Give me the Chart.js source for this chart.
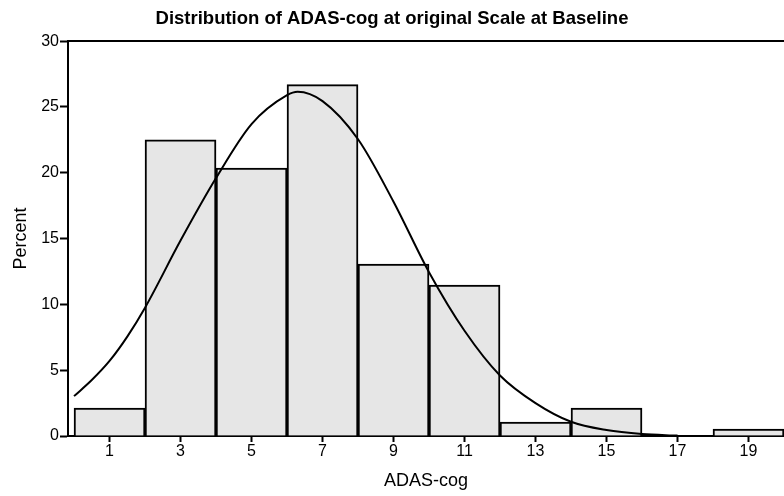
<!DOCTYPE html>
<html>
<head>
<meta charset="utf-8">
<script src="https://cdn.jsdelivr.net/npm/chart.js@4.4.1/dist/chart.umd.min.js"></script>
<style>
  body { margin: 0; background: #fff; }
  #wrap { width: 784px; height: 496px; }
</style>
</head>
<body>
<div id="wrap"><canvas id="histChart"></canvas></div>
<script>
// histogram bins (midpoints, width 2) and percent per bin
const binMids = [1, 3, 5, 7, 9, 11, 13, 15, 17, 19];
const binPercent = [2.13, 22.5, 20.35, 26.7, 13.06, 11.47, 1.06, 2.13, 0, 0.53];

// fitted normal curve
const curveX = [0, 0.5, 1, 1.5, 2, 3, 4, 5, 6, 6.3, 7, 8, 9, 10, 11, 12, 13, 14, 15, 16, 17];
const curveY = [3.03, 4.25, 5.7, 7.55, 9.75, 14.85, 19.6, 23.7, 25.9, 26.16, 25.45, 22.55, 17.8, 12.45, 8.0, 4.6, 2.5, 1.08, 0.45, 0.15, 0.03];

const xTicks = [1, 3, 5, 7, 9, 11, 13, 15, 17, 19];
const yTicks = [0, 5, 10, 15, 20, 25, 30];

const font = 'Liberation Sans, Arial, Helvetica, sans-serif';

const ctx = document.getElementById('histChart').getContext('2d');
new Chart(ctx, {
    type: 'bar',
    data: {
        datasets: [{
            type: 'line',
            data: curveX.map((x, i) => ({ x: x, y: curveY[i] })),
            borderColor: '#000',
            borderWidth: 2,
            pointRadius: 0,
            cubicInterpolationMode: 'monotone',
            fill: false,
            order: 1
        }, {
            data: binMids.map((x, i) => ({ x: x, y: binPercent[i] })),
            backgroundColor: '#e6e6e6',
            borderColor: '#000',
            borderWidth: 2,
            barPercentage: 1,
            categoryPercentage: 1,
            order: 2
        }]
    },
    options: {
        responsive: true,
        maintainAspectRatio: false,
        animation: false,
        layout: { padding: { top: 0, right: 0 } },
        plugins: {
            legend: { display: false },
            tooltip: { enabled: false },
            title: {
                display: true,
                text: 'Distribution of ADAS-cog at original Scale at Baseline',
                color: '#000',
                font: { family: font, size: 18.5, weight: 'bold' },
                padding: { top: 8, bottom: 3 }
            }
        },
        scales: {
            x: {
                type: 'linear',
                offset: false,
                min: -0.17,
                max: 20,
                afterBuildTicks: axis => { axis.ticks = xTicks.map(v => ({ value: v })); },
                afterFit: axis => { axis.height = 60; },
                ticks: { color: '#000', font: { family: font, size: 16 }, padding: 0 },
                grid: { drawOnChartArea: false, offset: false, tickLength: 6, tickColor: '#000', tickWidth: 2 },
                border: { color: '#000', width: 2 },
                title: {
                    display: true,
                    text: 'ADAS-cog',
                    color: '#000',
                    font: { family: font, size: 18 },
                    padding: { top: 3 }
                }
            },
            x2: {
                type: 'linear',
                position: 'top',
                offset: false,
                min: -0.17,
                max: 20,
                ticks: { display: false },
                grid: { display: false },
                border: { color: '#000', width: 2 }
            },
            y: {
                min: 0,
                max: 30,
                afterBuildTicks: axis => { axis.ticks = yTicks.map(v => ({ value: v })); },
                afterFit: axis => { axis.width = 68; },
                ticks: { color: '#000', font: { family: font, size: 16 }, padding: 1 },
                grid: { drawOnChartArea: false, tickLength: 8, tickColor: '#000', tickWidth: 2 },
                border: { color: '#000', width: 2 },
                title: {
                    display: true,
                    text: 'Percent',
                    color: '#000',
                    font: { family: font, size: 18 },
                    padding: { top: 10, bottom: 10 }
                }
            }
        }
    }
});
</script>
</body>
</html>
